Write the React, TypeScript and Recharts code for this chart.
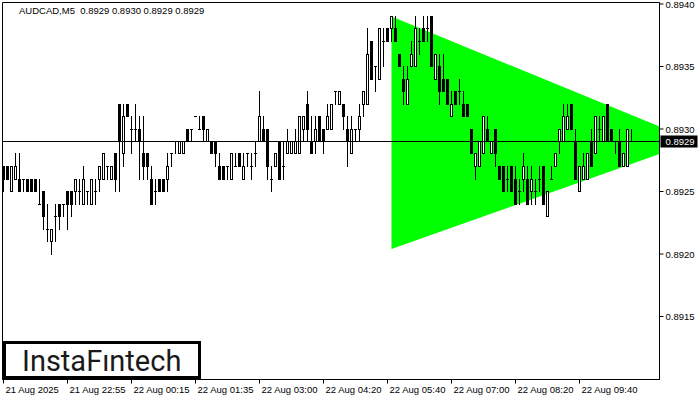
import { ComposedChart, Area, Bar, XAxis, YAxis, ReferenceLine, ReferenceArea } from "recharts";

// AUDCAD M5 bars (4-digit prices)
const OPEN = [
  0.8927, 0.8927, 0.8925, 0.8926, 0.8926, 0.8926, 0.8926, 0.8926, 0.8926, 0.8924,
  0.8925, 0.8922, 0.8921, 0.8923, 0.8924, 0.8924, 0.8925, 0.8925, 0.8925, 0.8925,
  0.8924, 0.8925, 0.8924, 0.8925, 0.8926, 0.8926, 0.8927, 0.8926, 0.8928, 0.8932,
  0.8928, 0.8932, 0.893, 0.893, 0.893, 0.8928, 0.8928, 0.8926, 0.8925, 0.8926,
  0.8926, 0.8926, 0.8928, 0.8929, 0.8928, 0.8928, 0.893, 0.893, 0.8931, 0.893,
  0.8931, 0.8929, 0.8929, 0.8929, 0.8927, 0.8927, 0.8927, 0.8926, 0.8927, 0.8928,
  0.8926, 0.8928, 0.8927, 0.8928, 0.8929, 0.893, 0.893, 0.8926, 0.8927, 0.8929,
  0.8927, 0.8928, 0.8928, 0.8928, 0.8928, 0.893, 0.8932, 0.8929, 0.8929, 0.8931,
  0.893, 0.893, 0.893, 0.8933, 0.8932, 0.8932, 0.893, 0.8928, 0.893, 0.893,
  0.8932, 0.8932, 0.8937, 0.8935, 0.8934, 0.8937, 0.8938, 0.8938, 0.8938, 0.8936,
  0.8934, 0.8932, 0.8935, 0.8935, 0.8937, 0.8938, 0.8938, 0.8939, 0.8934, 0.8935,
  0.8934, 0.8934, 0.8931, 0.8933, 0.8933, 0.8932, 0.8932, 0.893, 0.8927, 0.8927,
  0.8928, 0.893, 0.8928, 0.893, 0.8927, 0.8927, 0.8926, 0.8927, 0.8926, 0.8925,
  0.8926, 0.8926, 0.8925, 0.8925, 0.8926, 0.8927, 0.8923, 0.8926, 0.8927, 0.8929,
  0.8929, 0.893, 0.8932, 0.8929, 0.8925, 0.8926, 0.8926, 0.8929, 0.8928, 0.893,
  0.8929, 0.8932, 0.893, 0.8929, 0.8929, 0.8927, 0.8927, 0.8929,
];
const HIGH = [
  0.8927, 0.8927, 0.8927, 0.8928, 0.8928, 0.8926, 0.8926, 0.8926, 0.8926, 0.8926,
  0.8925, 0.8924, 0.8922, 0.8924, 0.8924, 0.8924, 0.8925, 0.8925, 0.8926, 0.8926,
  0.8927, 0.8925, 0.8926, 0.8926, 0.8927, 0.8928, 0.8927, 0.8927, 0.8928, 0.8932,
  0.8932, 0.8932, 0.8931, 0.8932, 0.8931, 0.8931, 0.8928, 0.8927, 0.8926, 0.8926,
  0.8926, 0.8928, 0.8928, 0.8929, 0.8929, 0.8929, 0.893, 0.893, 0.8931, 0.8931,
  0.8931, 0.893, 0.8929, 0.8929, 0.8928, 0.8927, 0.8927, 0.8928, 0.8928, 0.8928,
  0.8928, 0.8928, 0.8928, 0.8929, 0.8933, 0.8931, 0.893, 0.8927, 0.8928, 0.8929,
  0.8929, 0.893, 0.8929, 0.893, 0.8931, 0.8931, 0.8933, 0.8931, 0.8931, 0.8931,
  0.893, 0.8932, 0.8932, 0.8933, 0.8933, 0.8932, 0.8931, 0.8931, 0.893, 0.8932,
  0.8933, 0.8938, 0.8937, 0.8935, 0.8938, 0.8938, 0.8938, 0.8939, 0.8939, 0.8936,
  0.8935, 0.8935, 0.8937, 0.8939, 0.8938, 0.8939, 0.8939, 0.8939, 0.8936, 0.8936,
  0.8936, 0.8934, 0.8933, 0.8933, 0.8934, 0.8933, 0.8932, 0.893, 0.8928, 0.8929,
  0.8931, 0.8931, 0.8929, 0.893, 0.8927, 0.8927, 0.8927, 0.8927, 0.8927, 0.8926,
  0.8928, 0.8927, 0.8927, 0.8926, 0.8927, 0.8927, 0.8925, 0.8927, 0.8928, 0.893,
  0.8932, 0.8932, 0.8932, 0.893, 0.8927, 0.8928, 0.8928, 0.893, 0.8931, 0.8931,
  0.8931, 0.8932, 0.893, 0.8929, 0.893, 0.8928, 0.893, 0.893,
];
const LOW = [
  0.8925, 0.8926, 0.8925, 0.8926, 0.8925, 0.8925, 0.8925, 0.8925, 0.8925, 0.8924,
  0.8922, 0.8921, 0.892, 0.8921, 0.8922, 0.8923, 0.8922, 0.8923, 0.8924, 0.8924,
  0.8924, 0.8924, 0.8924, 0.8924, 0.8925, 0.8926, 0.8926, 0.8926, 0.8925, 0.8925,
  0.8927, 0.8931, 0.8928, 0.8929, 0.8926, 0.8926, 0.8926, 0.8924, 0.8924, 0.8925,
  0.8925, 0.8925, 0.8927, 0.8928, 0.8928, 0.8928, 0.8929, 0.8929, 0.8931, 0.893,
  0.8929, 0.8929, 0.8928, 0.8927, 0.8926, 0.8926, 0.8926, 0.8926, 0.8927, 0.8927,
  0.8926, 0.8927, 0.8926, 0.8927, 0.8929, 0.8929, 0.8926, 0.8925, 0.8927, 0.8926,
  0.8926, 0.8928, 0.8928, 0.8928, 0.8928, 0.8929, 0.8929, 0.8928, 0.8928, 0.8929,
  0.8928, 0.893, 0.893, 0.8932, 0.8932, 0.893, 0.8927, 0.8928, 0.8929, 0.8929,
  0.8931, 0.8932, 0.8934, 0.8933, 0.8934, 0.8935, 0.8937, 0.8937, 0.8937, 0.8935,
  0.8932, 0.8932, 0.8935, 0.8935, 0.8936, 0.8937, 0.8937, 0.8935, 0.8934, 0.8932,
  0.8933, 0.8932, 0.8931, 0.8932, 0.8932, 0.8931, 0.8931, 0.8928, 0.8926, 0.8927,
  0.8928, 0.8929, 0.8928, 0.8927, 0.8926, 0.8925, 0.8925, 0.8925, 0.8924, 0.8924,
  0.8925, 0.8924, 0.8924, 0.8924, 0.8925, 0.8924, 0.8923, 0.8926, 0.8927, 0.8928,
  0.8929, 0.893, 0.893, 0.8926, 0.8925, 0.8926, 0.8926, 0.8927, 0.8928, 0.8929,
  0.8929, 0.8929, 0.8929, 0.8928, 0.8927, 0.8927, 0.8927, 0.8929,
];
const CLOSE = [
  0.8926, 0.8926, 0.8927, 0.8927, 0.8925, 0.8926, 0.8925, 0.8925, 0.8925, 0.8924,
  0.8923, 0.8922, 0.8922, 0.8923, 0.8923, 0.8924, 0.8924, 0.8924, 0.8926, 0.8925,
  0.8926, 0.8925, 0.8926, 0.8925, 0.8927, 0.8928, 0.8927, 0.8927, 0.8926, 0.8929,
  0.8931, 0.8931, 0.893, 0.893, 0.8929, 0.8927, 0.8927, 0.8924, 0.8925, 0.8925,
  0.8925, 0.8927, 0.8928, 0.8929, 0.8929, 0.8929, 0.8929, 0.893, 0.8931, 0.893,
  0.893, 0.893, 0.8928, 0.8928, 0.8926, 0.8926, 0.8927, 0.8928, 0.8927, 0.8927,
  0.8927, 0.8928, 0.8927, 0.8928, 0.8931, 0.8929, 0.8927, 0.8926, 0.8928, 0.8926,
  0.8927, 0.8929, 0.8929, 0.8929, 0.8931, 0.8931, 0.893, 0.8928, 0.893, 0.8929,
  0.8929, 0.8931, 0.8932, 0.8933, 0.8933, 0.8931, 0.8929, 0.893, 0.893, 0.8931,
  0.8933, 0.8936, 0.8934, 0.8935, 0.8938, 0.8937, 0.8937, 0.8939, 0.8937, 0.8935,
  0.8933, 0.8934, 0.8936, 0.8938, 0.8937, 0.8937, 0.8938, 0.8935, 0.8936, 0.8933,
  0.8933, 0.8932, 0.8932, 0.8932, 0.8933, 0.8931, 0.8931, 0.8928, 0.8928, 0.8929,
  0.8931, 0.8929, 0.8929, 0.8928, 0.8926, 0.8925, 0.8926, 0.8925, 0.8924, 0.8925,
  0.8927, 0.8924, 0.8926, 0.8925, 0.8926, 0.8924, 0.8925, 0.8926, 0.8928, 0.893,
  0.8931, 0.8931, 0.893, 0.8926, 0.8927, 0.8927, 0.8928, 0.8927, 0.8931, 0.893,
  0.8931, 0.8929, 0.8929, 0.8929, 0.8927, 0.8928, 0.893, 0.8929,
];

// x-axis labels sit on every 16th bar
const TIME_TICKS = [0, 16, 32, 48, 64, 80, 96, 112, 128, 144];
const TIME_LABELS = [
  "21 Aug 2025", "21 Aug 22:55", "22 Aug 00:15", "22 Aug 01:35", "22 Aug 03:00",
  "22 Aug 04:20", "22 Aug 05:40", "22 Aug 07:00", "22 Aug 08:20", "22 Aug 09:40",
];
const PRICE_TICKS = [0.8915, 0.892, 0.8925, 0.893, 0.8935, 0.894];

// symmetrical triangle: left side at bar 97, cut by the chart's right edge
const TRI_INDEX = [97, 164];
const TRI_LOW = [0.89204, 0.8928];
const TRI_HIGH = [0.8939, 0.89302];

const LAST_PRICE = 0.8929;
const TITLE = "AUDCAD,M5  0.8929 0.8930 0.8929 0.8929";

const X_DOMAIN: [number, number] = [-0.25, 164];
const Y_DOMAIN: [number, number] = [0.890996, 0.894012];
const FONT = "'Liberation Sans', Arial, sans-serif";

type Row = {
  i: number;
  o?: number;
  h?: number;
  l?: number;
  c?: number;
  hl?: [number, number];
  tri?: [number, number];
};

const rows: Row[] = OPEN.map((o, i) => ({
  i,
  o,
  h: HIGH[i],
  l: LOW[i],
  c: CLOSE[i],
  hl: [LOW[i], HIGH[i]],
}));
TRI_INDEX.forEach((x, j) => {
  const hit = rows.find((r) => r.i === x);
  if (hit) hit.tri = [TRI_LOW[j], TRI_HIGH[j]];
  else rows.push({ i: x, tri: [TRI_LOW[j], TRI_HIGH[j]] });
});
rows.sort((a, b) => a.i - b.i);

// MT4 style bar: black body for down bars, hollow for up bars
function Candle(props: any) {
  const { x, y, width, height, payload } = props;
  if (!payload || payload.o == null || x == null || y == null) return <g />;
  const { o, h, l, c } = payload as Required<Row>;
  const span = h - l;
  const py = (p: number) => (span > 0 ? y + ((h - p) / span) * height : y);
  const row = (p: number) => Math.round(py(p) - 0.5);
  const cx = Math.floor(x + width / 2);
  const rH = row(h);
  const rL = row(l);
  const rO = row(o);
  const rC = row(c);
  return (
    <g>
      <rect x={cx} y={rH} width={1} height={rL - rH + 1} fill="#000" />
      {o === c ? (
        <rect x={cx - 1} y={rO} width={3} height={1} fill="#000" />
      ) : c < o ? (
        <rect x={cx - 1} y={rO} width={3} height={rC - rO + 1} fill="#000" />
      ) : (
        <rect x={cx - 0.5} y={rC + 0.5} width={2} height={rO - rC} fill="#fff" stroke="#000" strokeWidth={1} />
      )}
    </g>
  );
}

function TimeTick(props: any) {
  const { x, y, payload } = props;
  const idx = TIME_TICKS.indexOf(payload.value);
  return (
    <text x={x + 2} y={y + 9.5} fontSize={9.5} fontFamily={FONT} fill="#000" textAnchor="start">
      {TIME_LABELS[idx] ?? ""}
    </text>
  );
}

function PriceTick(props: any) {
  const { x, y, payload } = props;
  return (
    <text x={x} y={y + 3.5} fontSize={9.5} fontFamily={FONT} fill="#000" textAnchor="start">
      {Number(payload.value).toFixed(4)}
    </text>
  );
}

function PriceTag(props: any) {
  const vb = props.viewBox || {};
  const right = (vb.x ?? 0) + (vb.width ?? 0);
  const y = vb.y ?? 0;
  return (
    <g>
      <rect x={right + 1} y={y - 6} width={37} height={12} fill="#000" />
      <text x={right + 6} y={y + 3.5} fontSize={9.5} fontFamily={FONT} fill="#fff" textAnchor="start">
        {LAST_PRICE.toFixed(4)}
      </text>
    </g>
  );
}

export default function App() {
  return (
    <div style={{ position: "relative", width: 700, height: 400, background: "#fff" }}>
      <style>{`body{margin:0;}`}</style>
      <ComposedChart
        width={700}
        height={400}
        data={rows}
        margin={{ top: 2.5, left: 2.5, right: 0, bottom: 0 }}
      >
        <XAxis
          dataKey="i"
          type="number"
          domain={X_DOMAIN}
          allowDataOverflow
          ticks={TIME_TICKS}
          interval={0}
          tick={<TimeTick />}
          tickSize={4}
          tickMargin={0}
          height={20.5}
          axisLine={{ stroke: "#000" }}
          tickLine={{ stroke: "#000" }}
        />
        <YAxis
          orientation="right"
          type="number"
          domain={Y_DOMAIN}
          allowDataOverflow
          ticks={PRICE_TICKS}
          interval={0}
          tick={<PriceTick />}
          tickSize={4}
          tickMargin={2}
          width={40.5}
          axisLine={{ stroke: "#000" }}
          tickLine={{ stroke: "#000" }}
        />
        <ReferenceArea
          x1={X_DOMAIN[0]}
          x2={X_DOMAIN[1]}
          y1={Y_DOMAIN[0]}
          y2={Y_DOMAIN[1]}
          fill="none"
          stroke="#000"
          strokeWidth={1}
          ifOverflow="visible"
        />
        <Area
          dataKey="tri"
          type="linear"
          fill="#00ff00"
          fillOpacity={1}
          stroke="none"
          dot={false}
          activeDot={false}
          connectNulls
          isAnimationActive={false}
        />
        <Bar dataKey="hl" barSize={3} shape={<Candle />} isAnimationActive={false} />
        <ReferenceLine
          y={LAST_PRICE}
          stroke="#000"
          strokeWidth={1}
          label={(p: any) => <PriceTag {...p} />}
        />
      </ComposedChart>
      <svg
        width={700}
        height={400}
        style={{ position: "absolute", left: 0, top: 0, pointerEvents: "none" }}
      >
        <text x={19} y={14} fontSize={9.5} fontFamily={FONT} fill="#000" style={{ whiteSpace: "pre" }}>
          {TITLE}
        </text>
        <rect x={4.5} y={342.5} width={195} height={35} fill="#fff" stroke="#000" strokeWidth={3} />
        <text x={22} y={371} fontSize={29} fontWeight={400} fontFamily="Roboto, 'Noto Sans', sans-serif" fill="#1a1a1a">
          InstaFıntech
        </text>
      </svg>
    </div>
  );
}
